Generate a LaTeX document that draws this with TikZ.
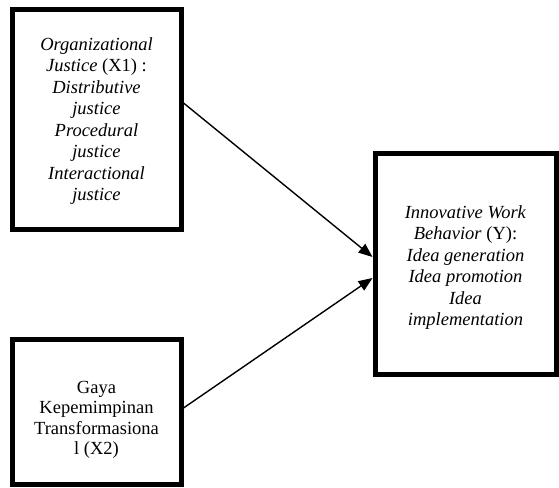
\documentclass[tikz,border=0pt]{standalone}
\usepackage{fontspec}
\setmainfont{Liberation Serif}
\usetikzlibrary{arrows.meta}
\begin{document}
\begin{tikzpicture}[x=1pt,y=1pt,
  boxnode/.style={draw=black,line width=5pt,rectangle,inner sep=0pt},
  txt/.style={align=center,inner sep=0pt,font=\fontsize{18.5}{21.5}\selectfont},
  conn/.style={line width=1.4pt,-{Triangle[length=14pt,width=11pt]}}]
\useasboundingbox (0,0) rectangle (559,487);
\node[boxnode,minimum width=169pt,minimum height=220pt] (x1) at (96.5,367) {};
\node[txt] (x1t) at (96.5,366)
  {\textit{Organizational}\\\textit{Justice} (X1) :\\\textit{Distributive}\\\textit{justice}\\\textit{Procedural}\\\textit{justice}\\\textit{Interactional}\\\textit{justice}};
\node[boxnode,minimum width=169pt,minimum height=144pt] (x2) at (96.5,75) {};
\node[txt,font=\fontsize{18.5}{20.5}\selectfont] (x2t) at (96.5,67)
  {Gaya\\Kepemimpinan\\Transformasiona\\l (X2)};
\node[boxnode,minimum width=181pt,minimum height=221pt] (y) at (465.5,222.5) {};
\node[txt] (yt) at (465.5,219.5)
  {\textit{Innovative Work}\\\textit{Behavior} (Y):\\\textit{Idea generation}\\\textit{Idea promotion}\\\textit{Idea}\\\textit{implementation}};
\coordinate (a1) at ([yshift=17pt]x1.east);
\coordinate (b1) at ([yshift=7.5pt]y.west);
\coordinate (a2) at ([yshift=4pt]x2.east);
\coordinate (b2) at ([yshift=-13.5pt]y.west);
\draw[conn] (a1) -- (b1);
\draw[conn] (a2) -- (b2);
\end{tikzpicture}
\end{document}
